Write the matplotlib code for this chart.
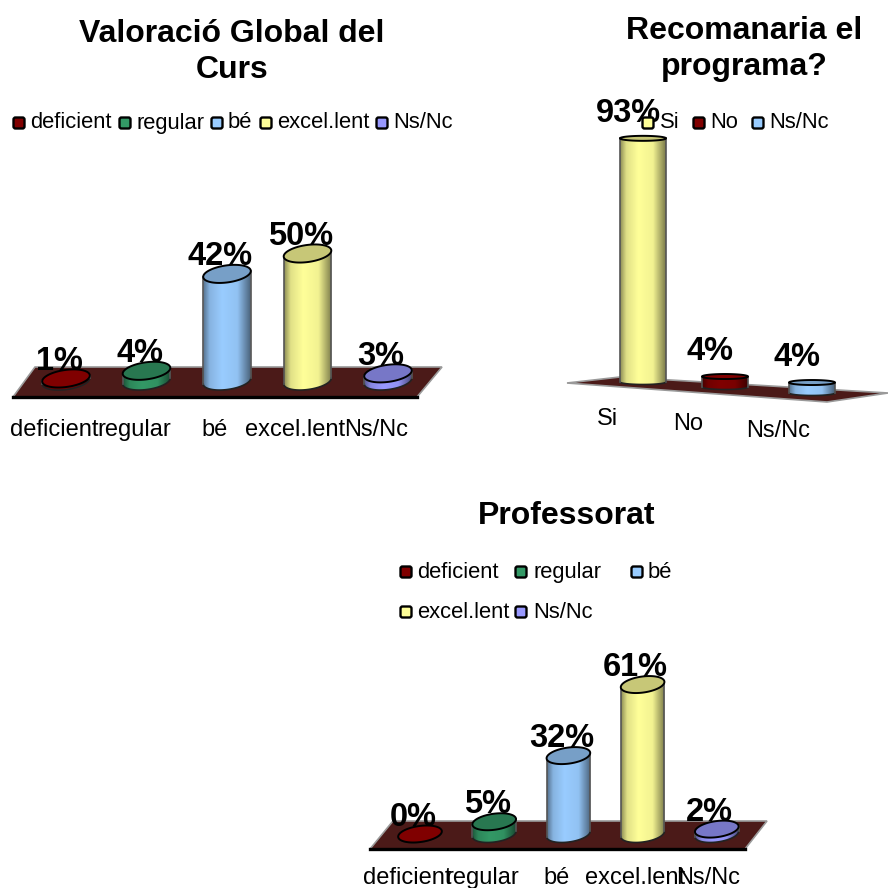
import numpy as np
import matplotlib
matplotlib.use('Agg')
import matplotlib.pyplot as plt
from matplotlib.colors import LinearSegmentedColormap, to_rgb
from matplotlib.patches import Polygon, PathPatch, FancyBboxPatch
from matplotlib.path import Path
from matplotlib.transforms import Affine2D

plt.rcParams['font.family'] = ['Liberation Sans', 'DejaVu Sans']

# Data
global_cats = ['deficient', 'regular', 'bé', 'excel.lent', 'Ns/Nc']
global_vals = [1, 4, 42, 50, 3]

recom_cats = ['Si', 'No', 'Ns/Nc']
recom_vals = [93, 4, 4]

prof_cats = ['deficient', 'regular', 'bé', 'excel.lent', 'Ns/Nc']
prof_vals = [0, 5, 32, 61, 2]

# Colours
RED = '#800000'
GREEN = '#339966'
BLUE = '#99ccff'
YELLOW = '#ffff99'
PURPLE = '#9999ff'
FLOOR = '#4b1a18'

# room below zero so the rounded cylinder bottoms are not cut off
Y_MIN = -15

fig = plt.figure(figsize=(8.88, 8.88), dpi=100)
# transform taking pixels measured from the top left of the picture
px = Affine2D().scale(1 / 888, -1 / 888).translate(0, 1) + fig.transFigure


def shade(color, factor):
    return tuple(c * factor for c in to_rgb(color))


def cylinder(ax, x, value, color, sx, sy, half_w, half_h, tilt, drop, edge):
    """Draw one cylinder for a value, sizes given in pixels."""
    phi = np.radians(tilt)
    t0 = np.arctan2(-half_h * np.sin(phi), half_w * np.cos(phi))

    def outline(t, level):
        ex = half_w * np.cos(t) * np.cos(phi) - half_h * np.sin(t) * np.sin(phi)
        ey = half_w * np.cos(t) * np.sin(phi) + half_h * np.sin(t) * np.cos(phi)
        return np.column_stack([x + ex / sx, level + (ey - drop) / sy])

    lower = outline(np.linspace(np.pi + t0, 2 * np.pi + t0, 60), 0)
    upper = outline(np.linspace(t0, np.pi + t0, 60), value)
    body = np.vstack([lower, upper])

    # body with a horizontal gradient, clipped to the outline
    cmap = LinearSegmentedColormap.from_list('c', [
        (0.0, shade(color, 0.55)), (0.14, shade(color, 0.88)),
        (0.4, shade(color, 1.0)), (0.72, shade(color, 0.95)),
        (1.0, shade(color, 0.48))])
    clip = PathPatch(Path(np.vstack([body, body[:1]])), fc='none', ec='none',
                     transform=ax.transData)
    ax.add_patch(clip)
    im = ax.imshow(np.linspace(0, 1, 256).reshape(1, -1), cmap=cmap, aspect='auto',
                   extent=[body[:, 0].min(), body[:, 0].max(),
                           body[:, 1].min(), body[:, 1].max()],
                   zorder=3, interpolation='bilinear')
    im.set_clip_path(clip)

    ax.plot(lower[:, 0], lower[:, 1], color='#222222', lw=1.2, zorder=4, clip_on=False)
    for pts in (body[[0, -1]], body[[59, 60]]):
        ax.plot(pts[:, 0], pts[:, 1], color='#555555', lw=1.2, zorder=4, clip_on=False)

    top = outline(np.linspace(0, 2 * np.pi, 120), value)
    ax.add_patch(Polygon(top, closed=True, fc=shade(color, 0.78 if color != RED else 1.0),
                         ec='black', lw=edge, zorder=5, clip_on=False))


def chart(cats, vals, colors, x0, spacing, base, scale, half_w, half_h, tilt,
          floor, front, label_xy, label_size=17, drops=None, shifts=None, off=(-7, 17)):
    n = len(cats)
    left = x0 - 0.5 * spacing
    width = n * spacing
    height = (100 - Y_MIN) * scale
    bottom = base - Y_MIN * scale
    ax = fig.add_axes([left / 888, 1 - bottom / 888, width / 888, height / 888])
    ax.axis('off')

    ax.add_patch(Polygon(floor, closed=True, fc=FLOOR, ec='#9a9a9a', lw=1.2,
                         transform=px, zorder=1, clip_on=False))
    if front:
        ax.plot([p[0] for p in floor[:2]], [p[1] for p in floor[:2]], color='black',
                lw=2.4, transform=px, zorder=1.5, clip_on=False)

    drops = drops or [0] * n
    shifts = shifts or [0] * n
    for i, v in enumerate(vals):
        xi = i + shifts[i] / spacing
        cylinder(ax, xi, v, colors[i], spacing, scale, half_w, half_h, tilt, drops[i],
                 1.4)
        ax.annotate(f'{v}%', (xi, v), xytext=(off[0], off[1] - drops[i]),
                    textcoords='offset pixels', ha='center', va='center',
                    fontsize=23.5, fontweight='bold', color='black', zorder=2,
                    annotation_clip=False)
    ax.set_xlim(-0.5, n - 0.5)
    ax.set_ylim(Y_MIN, 100)

    for name, (lx, ly) in zip(cats, label_xy):
        fig.text(lx, ly, name, transform=px, fontsize=label_size, ha='center',
                 va='center', color='black')
    return ax


def legend(entries, size=15.8):
    for name, color, sw_x, txt_x, y in entries:
        fig.add_artist(FancyBboxPatch((sw_x - 4.5, y - 4.5), 9, 9,
                                      boxstyle='round,pad=1,rounding_size=2',
                                      fc=color, ec='black', lw=1.7,
                                      transform=px, zorder=6))
        fig.text(txt_x, y, name, transform=px, fontsize=size, ha='left', va='center',
                 color='black', zorder=7)


def title(text, x, y):
    fig.text(x, y, text, transform=px, fontsize=23, fontweight='bold', ha='center',
             va='center', linespacing=1.22)


# Valoracio global
colors5 = [RED, GREEN, BLUE, YELLOW, PURPLE]
chart(global_cats, global_vals, colors5, 66, 80.5, 381, 2.55, 24, 8.5, 8,
      [(13, 397), (417, 397), (442, 367), (35, 367)], True,
      [(54, 430), (134, 430), (215, 430), (295, 430), (376, 430)])
title('Valoració Global del\nCurs', 232, 52)
legend([('deficient', RED, 19, 30, 123), ('regular', GREEN, 125, 136, 123),
        ('bé', BLUE, 217, 228, 123), ('excel.lent', YELLOW, 266, 277, 123),
        ('Ns/Nc', PURPLE, 382, 393, 123)])

# Recomanaria
chart(recom_cats, recom_vals, [YELLOW, RED, BLUE], 643, 84.5, 382, 2.62, 23, 2.5, 0,
      [(567, 383), (620, 377), (888, 393), (827, 402)], False,
      [(607, 419), (688, 424), (778, 431)], drops=[0, 5, 11], shifts=[0, -2.5, 0],
      off=(-15, 25))
title('Recomanaria el\nprograma?', 744, 49)
legend([('Si', YELLOW, 648, 660, 123), ('No', RED, 699, 710, 123),
        ('Ns/Nc', BLUE, 758, 769, 123)])

# Professorat
chart(prof_cats, prof_vals, colors5, 420, 74.2, 834, 2.45, 22, 8, 8,
      [(370, 849), (745, 849), (767, 821), (393, 821)], True,
      [(407, 878), (482, 878), (557, 878), (635, 878), (708, 878)])
title('Professorat', 567, 516)
legend([('deficient', RED, 406, 417, 572), ('regular', GREEN, 521, 533, 572),
        ('bé', BLUE, 637, 648, 572), ('excel.lent', YELLOW, 406, 417, 612),
        ('Ns/Nc', PURPLE, 521, 533, 612)])

fig.savefig('out.png', dpi=100)
